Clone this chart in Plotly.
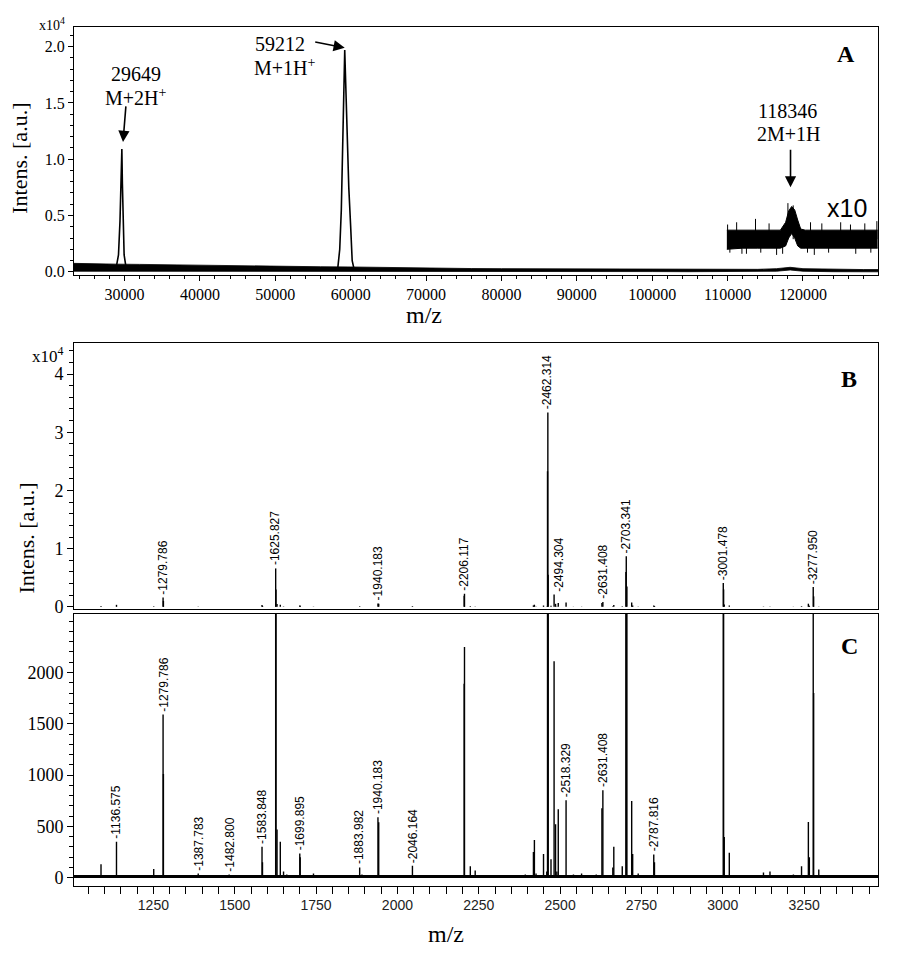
import plotly.graph_objects as go

# ---------------- Panel A data (intensity in units of 1e4) ----------------
a_band_mz = [23300, 26000, 29000, 32000, 36000, 40000, 44000, 48000, 52000, 56000, 60000,
             64000, 68000, 72000, 76000, 80000, 85000, 90000, 95000, 100000, 105000, 110000,
             114000, 116500, 118300, 120000, 124000, 128000, 130000]
a_band_lo = [0.005, 0.005, 0.005, 0.005, 0.008, 0.008, 0.006, 0.006, 0.006, 0.005, 0.005,
             0.004, 0.003, 0.003, 0.003, 0.003, 0.002, 0.002, 0.002, 0.002, 0.001, 0.001,
             0.001, 0.005, 0.016, 0.005, 0.001, 0.0, 0.0]
a_band_hi = [0.075, 0.07, 0.068, 0.066, 0.062, 0.057, 0.052, 0.048, 0.046, 0.045, 0.043,
             0.038, 0.034, 0.031, 0.029, 0.028, 0.027, 0.025, 0.024, 0.024, 0.023, 0.022,
             0.022, 0.028, 0.04, 0.028, 0.022, 0.02, 0.02]

a_peak1_mz = [28900, 29200, 29400, 29550, 29649, 29720, 29800, 29950, 30200]
a_peak1_int = [0.04, 0.15, 0.45, 0.85, 1.09, 0.78, 0.45, 0.15, 0.04]
a_peak2_mz = [58300, 58550, 58760, 58950, 59100, 59212, 59330, 59500, 59750, 60000, 60200, 60400]
a_peak2_int = [0.04, 0.2, 0.55, 1.25, 1.75, 1.97, 1.7, 1.3, 0.75, 0.4, 0.1, 0.04]

# x10 inset
x10_mz = [109900, 112000, 114000, 116000, 117000, 117700, 118100, 118500, 118900,
          119300, 119700, 120300, 123000, 126000, 129900]
x10_lo = [0.2, 0.21, 0.21, 0.21, 0.21, 0.23, 0.3, 0.34, 0.3, 0.23, 0.21, 0.21, 0.21, 0.21, 0.21]
x10_hi = [0.37, 0.37, 0.37, 0.37, 0.37, 0.44, 0.54, 0.58, 0.55, 0.46, 0.38, 0.37, 0.37, 0.37, 0.37]
x10_spike_mz = [110000, 110300, 111200, 111900, 112500, 113700, 114400, 115500, 116500, 117300,
                118000, 118700, 120600, 121000, 121500, 122500, 123400, 125000, 126300,
                127000, 128200, 129000, 129800]
x10_spike_int = [0.42, 0.17, 0.44, 0.16, 0.16, 0.47, 0.17, 0.43, 0.15, 0.16,
                 0.61, 0.59, 0.17, 0.44, 0.15, 0.43, 0.17, 0.44, 0.42,
                 0.16, 0.43, 0.17, 0.45]

# ---------------- Panels B / C data (counts) ----------------
peak_mz = [1089, 1136.575, 1174, 1220, 1251, 1279.786, 1280.8, 1338, 1387.783, 1415,
           1482.8, 1546, 1577, 1583.848, 1585.3, 1610, 1625.827, 1626.8, 1630, 1640, 1650, 1660,
           1699.895, 1701.2, 1742, 1763, 1835, 1883.982, 1891, 1940.183, 1942.5, 1993,
           2046.164, 2064, 2135, 2205.1, 2206.117, 2224, 2239, 2275, 2300, 2331, 2393,
           2418, 2421, 2426, 2449, 2459, 2461.3, 2462.314, 2463.3, 2472, 2481.5, 2486, 2490,
           2494.304, 2518.329, 2541, 2566, 2591, 2611, 2628.5, 2631.408, 2662, 2665, 2691,
           2702.3, 2703.341, 2705.3, 2720, 2723, 2740, 2769, 2787.816, 2790, 2884, 2925,
           2950, 2970, 3001.478, 3002.5, 3004.5, 3020, 3063, 3125, 3145, 3170, 3217, 3242,
           3263, 3266, 3277.95, 3279.2, 3295, 3315, 3345]
peak_int = [130, 350, 20, 20, 85, 1590, 1010, 15, 40, 15,
            30, 25, 20, 300, 150, 25, 6600, 3000, 470, 350, 60, 30,
            235, 200, 40, 25, 25, 100, 30, 590, 540, 20,
            115, 25, 15, 1890, 2250, 110, 70, 15, 15, 20, 30,
            250, 367, 40, 230, 60, 23300, 33400, 5500, 180, 2110, 520, 60,
            667, 755, 30, 40, 25, 30, 677, 853, 100, 300, 110,
            6000, 8700, 3500, 748, 230, 40, 20, 225, 150, 15, 25,
            25, 20, 4100, 3000, 396, 242, 15, 50, 60, 20, 30, 110,
            542, 200, 3400, 1800, 80, 20, 25]
c_baseline_level = 12

b_labels = [1279.786, 1625.827, 1940.183, 2206.117, 2462.314, 2494.304, 2631.408,
            2703.341, 3001.478, 3277.950]
c_labels = [1136.575, 1279.786, 1387.783, 1482.800, 1583.848, 1699.895, 1883.982,
            1940.183, 2046.164, 2518.329, 2631.408, 2787.816]

a_xticks = [30000, 40000, 50000, 60000, 70000, 80000, 90000, 100000, 110000, 120000]
b_yticks = [0, 1, 2, 3, 4]
c_yticks = [0, 500, 1000, 1500, 2000]
c_xticks = [1250, 1500, 1750, 2000, 2250, 2500, 2750, 3000, 3250]

# ---------------- geometry helpers ----------------
# the page body has an 8px margin: the figure is placed at (8, 8) in the window
OFF = 8
W, H = 900 - OFF, 957 - OFF
def px(x):
    return (x - OFF) / W
def py(y):
    return 1 - (y - OFF) / H

XL, XR = 74, 878
SERIF = "Times New Roman, Liberation Serif, serif"
SANS = "Arial, Liberation Sans, sans-serif"

fig = go.Figure()

# Panel A band (noise envelope)
fig.add_trace(go.Scatter(x=a_band_mz, y=a_band_lo, mode="lines", line=dict(color="black", width=0.8),
                         xaxis="x", yaxis="y", hoverinfo="skip"))
fig.add_trace(go.Scatter(x=a_band_mz, y=a_band_hi, mode="lines", line=dict(color="black", width=0.8),
                         fill="tonexty", fillcolor="black", xaxis="x", yaxis="y", hoverinfo="skip"))
for mz, it in ((a_peak1_mz, a_peak1_int), (a_peak2_mz, a_peak2_int)):
    fig.add_trace(go.Scatter(x=mz, y=it, mode="lines", line=dict(color="black", width=1.6),
                             xaxis="x", yaxis="y", hoverinfo="skip"))
# x10 inset
fig.add_trace(go.Scatter(x=x10_mz, y=x10_lo, mode="lines", line=dict(color="black", width=1),
                         xaxis="x", yaxis="y", hoverinfo="skip"))
fig.add_trace(go.Scatter(x=x10_mz, y=x10_hi, mode="lines", line=dict(color="black", width=1),
                         fill="tonexty", fillcolor="black", xaxis="x", yaxis="y", hoverinfo="skip"))
sx, sy = [], []
for m, v in zip(x10_spike_mz, x10_spike_int):
    sx += [m, m, None]
    sy += [0.29, v, None]
fig.add_trace(go.Scatter(x=sx, y=sy, mode="lines", line=dict(color="black", width=1),
                         xaxis="x", yaxis="y", hoverinfo="skip"))

# Sticks for B and C
def sticks(scale):
    xs, ys = [], []
    for m, v in zip(peak_mz, peak_int):
        xs += [m, m, None]
        ys += [0, v / scale, None]
    return xs, ys

bx, by = sticks(1e4)
fig.add_trace(go.Scatter(x=bx, y=by, mode="lines", line=dict(color="black", width=1.4),
                         xaxis="x2", yaxis="y2", hoverinfo="skip"))
cx, cy = sticks(1)
fig.add_trace(go.Scatter(x=[1006, 3477], y=[c_baseline_level, c_baseline_level], mode="lines",
                         line=dict(color="black", width=3), xaxis="x3", yaxis="y3", hoverinfo="skip"))
fig.add_trace(go.Scatter(x=cx, y=cy, mode="lines", line=dict(color="black", width=1.4),
                         xaxis="x3", yaxis="y3", hoverinfo="skip"))

ann = []
def local_max(m0):
    return max(v for m, v in zip(peak_mz, peak_int) if abs(m - m0) <= 15)

for m0 in b_labels:
    ann.append(dict(x=m0, y=local_max(m0) / 1e4, xref="x2", yref="y2", text="-%.3f" % m0,
                    textangle=-90, showarrow=False, xanchor="center", yanchor="bottom", yshift=1,
                    font=dict(family=SANS, size=12, color="black")))
for m0 in c_labels:
    ann.append(dict(x=m0, y=local_max(m0), xref="x3", yref="y3", text="-%.3f" % m0,
                    textangle=-90, showarrow=False, xanchor="center", yanchor="bottom", yshift=1,
                    font=dict(family=SANS, size=12, color="black")))

def ptext(x, y, text, size, family=SERIF, angle=0):
    ann.append(dict(x=px(x), y=py(y), xref="paper", yref="paper", text=text, showarrow=False,
                    xanchor="center", yanchor="middle", textangle=angle,
                    font=dict(family=family, size=size, color="black")))

# Panel A texts
ptext(136, 75, "29649", 20)
ptext(136, 98, "M+2H<sup>+</sup>", 20)
ptext(280, 44, "59212", 20)
ptext(285, 67, "M+1H<sup>+</sup>", 20)
ptext(787, 112, "118346", 20)
ptext(789, 135, "2M+1H", 20)
ptext(847, 210, "x10", 25, family=SANS)
ptext(846, 54, "<b>A</b>", 24)
ptext(849, 382, "<b>B</b>", 24)
ptext(849, 651, "<b>C</b>", 24)
ptext(20, 160, "Intens. [a.u.]", 22, angle=-90)
ptext(26, 543, "Intens. [a.u.]", 22, angle=-90)
ptext(52, 24, "x10<sup>4</sup>", 14)
ptext(48, 358, "x10<sup>4</sup>", 17)
ptext(424, 318, "m/z", 24)
ptext(446, 942, "m/z", 24)

# Arrows
for x, y, axp, ayp in ((29800, 1.154, 3, -37), (59212, 1.99, -31, -6), (118346, 0.75, 0, -39)):
    ann.append(dict(x=x, y=y, xref="x", yref="y", text="", showarrow=True, ax=axp, ay=ayp,
                    arrowhead=2, arrowsize=1.4, arrowwidth=1.6, arrowcolor="black", standoff=0))

axis_common = dict(showline=True, linecolor="black", linewidth=1, mirror=True, showgrid=False,
                   zeroline=False, ticks="outside", tickcolor="black")

fig.update_layout(
    width=W, height=H, margin=dict(l=0, r=0, t=0, b=0),
    paper_bgcolor="white", plot_bgcolor="white", showlegend=False,
    xaxis=dict(domain=[px(XL), px(XR)], anchor="y", range=[23300, 129950], tickvals=a_xticks,
               tickformat="d", ticklen=5,
               minor=dict(dtick=2000, ticklen=3, ticks="outside", tickcolor="black"),
               tickfont=dict(family=SERIF, size=16, color="black"), **axis_common),
    yaxis=dict(domain=[py(277), py(27)], anchor="x", range=[-0.026, 2.176], tick0=0, dtick=0.5,
               tickformat=".1f", ticklen=5,
               minor=dict(dtick=0.1, ticklen=3, ticks="outside", tickcolor="black"),
               tickfont=dict(family=SERIF, size=16, color="black"), **axis_common),
    xaxis2=dict(domain=[px(XL), px(XR)], anchor="y2", range=[1006, 3477], showticklabels=False,
                showline=True, linecolor="black", mirror=True, showgrid=False, zeroline=False, ticks=""),
    yaxis2=dict(domain=[py(614), py(346)], anchor="x2", range=[-0.035, 4.53], tickvals=b_yticks,
                ticklen=6, minor=dict(dtick=0.2, ticklen=4, ticks="outside", tickcolor="black"),
                tickfont=dict(family=SERIF, size=18, color="black"), **axis_common),
    xaxis3=dict(domain=[px(XL), px(XR)], anchor="y3", range=[1006, 3477], tickvals=c_xticks,
                ticklen=7, minor=dict(dtick=50, ticklen=7, ticks="outside", tickcolor="black"),
                tickfont=dict(family=SANS, size=14, color="#222"), **axis_common),
    yaxis3=dict(domain=[py(893), py(619)], anchor="x3", range=[-77, 2572], tickvals=c_yticks,
                ticklen=6, minor=dict(dtick=100, ticklen=4, ticks="outside", tickcolor="black"),
                tickfont=dict(family=SERIF, size=18, color="black"), **axis_common),
    annotations=ann,
)

fig.write_html("out.html")
